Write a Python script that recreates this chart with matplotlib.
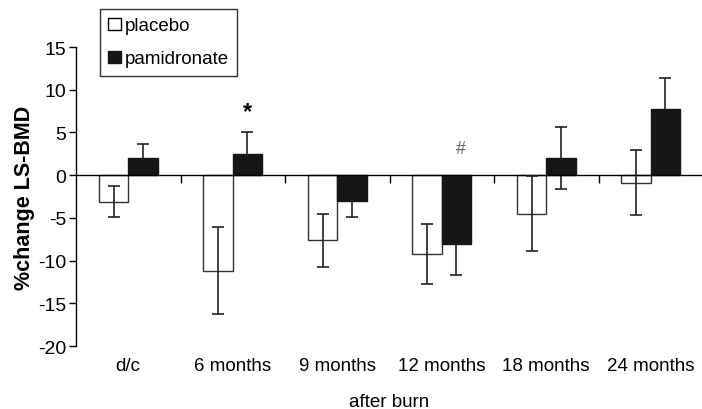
import matplotlib
matplotlib.use('Agg')
import matplotlib.pyplot as plt
from matplotlib.patches import Patch
import numpy as np

plt.rcParams['font.family'] = ['Liberation Sans', 'DejaVu Sans']
plt.rcParams['axes.unicode_minus'] = False

# Data (% change in LS-BMD)
categories = ['d/c', '6 months', '9 months', '12 months', '18 months', '24 months']
placebo = [-3.1, -11.2, -7.6, -9.2, -4.5, -0.9]
placebo_err = [1.8, 5.1, 3.1, 3.5, 4.4, 3.8]
pamidronate = [2.0, 2.5, -3.0, -8.1, 2.0, 7.7]
pamidronate_err = [1.6, 2.5, 1.9, 3.6, 3.6, 3.7]

fig = plt.figure(figsize=(7.02, 4.10), dpi=100)
ax = fig.add_axes([76 / 702, 1 - 347 / 410, 627 / 702, 299 / 410])

x = np.arange(len(categories))
w = 0.28
err_kw = dict(ecolor='#222222', elinewidth=1.2, capsize=4, capthick=1.2)

ax.bar(x - w / 2, placebo, w, yerr=placebo_err, color='white',
       edgecolor='#333333', linewidth=1.0, error_kw=dict(err_kw, zorder=3), zorder=2)
# pamidronate whiskers sit behind the black bars
ax.bar(x + w / 2, pamidronate, w, yerr=pamidronate_err, color='#161616',
       edgecolor='#161616', linewidth=1.0, error_kw=dict(err_kw, zorder=1), zorder=2)

ax.set_xlim(-0.5, len(categories) - 0.5)
ax.set_ylim(-20, 15)
ax.set_yticks(np.arange(-20, 16, 5))
ax.tick_params(axis='y', labelsize=14, length=5, width=1, direction='out', pad=2)

# x axis drawn at zero with ticks between categories
ax.spines['right'].set_visible(False)
ax.spines['top'].set_visible(False)
ax.spines['bottom'].set_position(('data', 0))
ax.spines['bottom'].set_linewidth(1.0)
ax.spines['left'].set_linewidth(1.0)
ax.set_xticks(x + 0.5)
ax.tick_params(axis='x', labelbottom=False, length=6, width=1, direction='out')

for xi, lab in zip(x, categories):
    ax.text(xi, -0.064, lab, transform=ax.get_xaxis_transform(),
            ha='center', va='center', fontsize=13.5)
ax.text(0.5, -0.184, 'after burn', transform=ax.transAxes,
        ha='center', va='center', fontsize=13.5)
ax.set_ylabel('%change LS-BMD', fontsize=15.5, fontweight='bold', labelpad=2)

# significance marks
ax.text(1 + w / 2, 7.4, '*', ha='center', va='center', fontsize=17, fontweight='bold')
ax.text(3.18, 3.1, '#', ha='center', va='center', fontsize=13, color='#666666')

handles = [Patch(facecolor='white', edgecolor='black', linewidth=1),
           Patch(facecolor='#161616', edgecolor='#161616', linewidth=1)]
leg = fig.legend(handles, ['placebo', 'pamidronate'], loc='upper left',
                 bbox_to_anchor=(100 / 702, 1 - 10 / 410), bbox_transform=fig.transFigure,
                 fontsize=13.5, frameon=True, fancybox=False, edgecolor='black',
                 handlelength=0.65, handleheight=0.65, handletextpad=0.2,
                 labelspacing=0.85, borderpad=0.45, borderaxespad=0)
leg.get_frame().set_linewidth(1.0)

fig.savefig('out.png', dpi=100)
